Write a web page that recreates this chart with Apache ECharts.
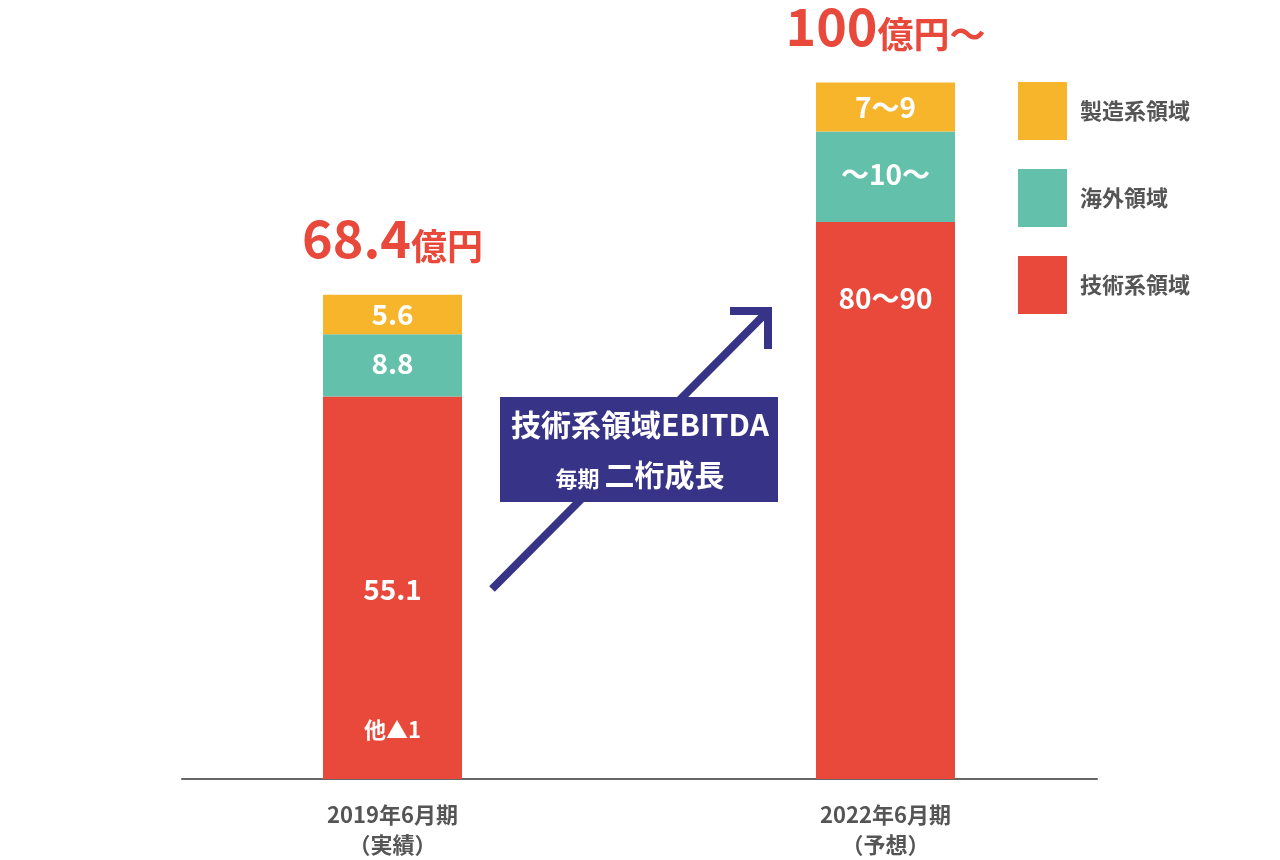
<!DOCTYPE html>
<html>
<head>
<meta charset="utf-8">
<script src="https://cdn.jsdelivr.net/npm/echarts@6/dist/echarts.min.js"></script>
<style>
html,body{margin:0;padding:0;background:#fff;}
#chart{width:1280px;height:860px;}
</style>
</head>
<body>
<div id="chart"></div>
<script>
// ---- data ----
const categories = ['2019年6月期\n（実績）', '2022年6月期\n（予想）'];
const seriesNames = ['技術系領域', '海外領域', '製造系領域'];
const techValues = [54.1, 78.8];
const overseasValues = [8.8, 12.8];
const mfgValues = [5.6, 6.9];
const techLabels = ['55.1', '80〜90'];
const overseasLabels = ['8.8', '〜10〜'];
const mfgLabels = ['5.6', '7〜9'];
const otherLabels = ['他▲1', ''];
const totalNumbers = ['68.4', '100'];
const totalUnits = ['億円', '億円〜'];
const calloutTitle = '技術系領域EBITDA';
const calloutSubA = '毎期';
const calloutSubB = '二桁成長';

// ---- styles ----
const FONT = 'Noto Sans CJK JP';
const RED = '#e8493a';
const TEAL = '#63c0ab';
const YELLOW = '#f7b52c';
const NAVY = '#373387';
const GRAY = '#555555';
const BAR_W = 139;

const whiteLabel = {
  show: true, color: '#fff', fontFamily: FONT, fontWeight: 'bold', fontSize: 28
};

const chart = echarts.init(document.getElementById('chart'));

const techData = techValues.map((v, i) => ({
  value: v,
  label: i === 0
    ? { position: 'inside', offset: [0, 2] }
    : { position: 'insideTop', distance: 62 }
}));

const option = {
  animation: false,
  backgroundColor: '#fff',
  legend: {
    data: ['製造系領域', '海外領域', '技術系領域'],
    orient: 'vertical',
    left: 1018,
    top: 82,
    padding: 0,
    itemWidth: 49,
    itemHeight: 58,
    itemGap: 29,
    icon: 'rect',
    selectedMode: false,
    textStyle: { fontFamily: FONT, fontSize: 22, fontWeight: 'bold', color: GRAY, padding: [0, 0, 0, 8] }
  },
  grid: [
    { left: 146, right: 148, top: 72, bottom: 81 },
    { left: 182, right: 183, top: 72, bottom: 81 }
  ],
  xAxis: [
    {
      type: 'category', gridIndex: 0, data: categories,
      axisLine: { show: false }, axisTick: { show: false },
      axisLabel: { fontFamily: FONT, fontSize: 22, fontWeight: 'bold', color: GRAY, lineHeight: 30, margin: 21 }
    },
    {
      type: 'category', gridIndex: 1, data: [''],
      axisLine: { show: true, lineStyle: { color: '#666', width: 2 } },
      axisTick: { show: false }, axisLabel: { show: false }
    }
  ],
  yAxis: [
    { type: 'value', gridIndex: 0, min: 0, max: 100, show: false },
    { type: 'value', gridIndex: 1, min: 0, max: 100, show: false }
  ],
  series: [
    {
      name: '他', type: 'bar', stack: 'total', barWidth: BAR_W,
      data: otherLabels.map(() => 0),
      itemStyle: { color: 'transparent' },
      label: {
        show: true, position: 'top', distance: 38, color: '#fff', fontFamily: FONT,
        fontWeight: 'bold', fontSize: 22,
        formatter: p => otherLabels[p.dataIndex]
      }
    },
    {
      name: seriesNames[0], type: 'bar', stack: 'total', barWidth: BAR_W,
      itemStyle: { color: RED },
      label: Object.assign({}, whiteLabel, { formatter: p => techLabels[p.dataIndex] }),
      data: techData
    },
    {
      name: seriesNames[1], type: 'bar', stack: 'total', barWidth: BAR_W,
      itemStyle: { color: TEAL },
      label: Object.assign({}, whiteLabel, { position: 'inside', offset: [0, -2], formatter: p => overseasLabels[p.dataIndex] }),
      data: overseasValues
    },
    {
      name: seriesNames[2], type: 'bar', stack: 'total', barWidth: BAR_W,
      itemStyle: { color: YELLOW },
      label: Object.assign({}, whiteLabel, { position: 'inside', formatter: p => mfgLabels[p.dataIndex] }),
      data: mfgValues
    },
    {
      name: '合計', type: 'bar', stack: 'total', barWidth: BAR_W,
      data: totalNumbers.map(() => 0),
      itemStyle: { color: 'transparent' },
      label: {
        show: true, position: 'top', distance: 30,
        formatter: p => '{n|' + totalNumbers[p.dataIndex] + '}{u|' + totalUnits[p.dataIndex] + '}',
        rich: {
          n: { fontFamily: FONT, fontWeight: 'bold', fontSize: 52, color: RED, lineHeight: 56, verticalAlign: 'bottom' },
          u: { fontFamily: FONT, fontWeight: 'bold', fontSize: 36, color: RED, lineHeight: 44, verticalAlign: 'bottom' }
        }
      }
    }
  ],
  graphic: [
    {
      type: 'line', z: 100,
      shape: { x1: 492, y1: 589, x2: 766, y2: 313 },
      style: { stroke: NAVY, lineWidth: 8, lineCap: 'butt' }
    },
    {
      type: 'polyline', z: 100,
      shape: { points: [[730, 311], [768, 311], [768, 349]] },
      style: { stroke: NAVY, lineWidth: 8, lineJoin: 'miter', fill: null }
    },
    {
      type: 'rect', z: 101,
      shape: { x: 500, y: 397, width: 278, height: 105 },
      style: { fill: NAVY }
    },
    {
      type: 'text', z: 102, x: 640, y: 425,
      style: {
        text: calloutTitle, fill: '#fff', font: 'bold 30px "' + FONT + '"',
        align: 'center', verticalAlign: 'middle'
      }
    },
    {
      type: 'text', z: 102, x: 640, y: 470,
      style: {
        text: '{a|' + calloutSubA + '} {b|' + calloutSubB + '}',
        align: 'center', verticalAlign: 'middle', fill: '#fff',
        fontFamily: FONT, fontWeight: 'bold', fontSize: 22,
        rich: {
          a: { fontFamily: FONT, fontWeight: 'bold', fontSize: 22, fill: '#fff', lineHeight: 34, verticalAlign: 'bottom' },
          b: { fontFamily: FONT, fontWeight: 'bold', fontSize: 30, fill: '#fff', lineHeight: 40, verticalAlign: 'bottom' }
        }
      }
    }
  ]
};

chart.setOption(option);
</script>
</body>
</html>
